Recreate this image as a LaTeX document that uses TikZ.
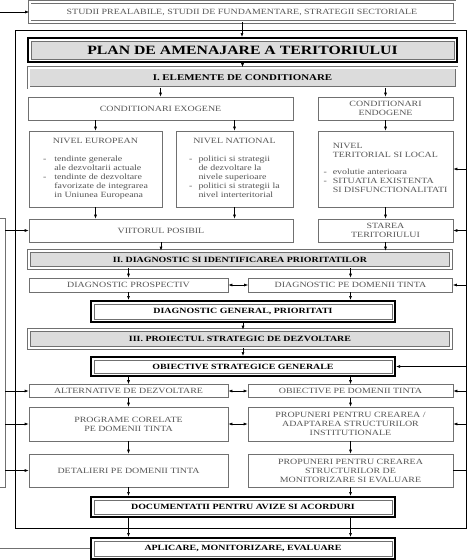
\documentclass[tikz,border=0pt]{standalone}
\usepackage{fontspec}
\setmainfont{Liberation Serif}[FakeStretch=1.24]
\usetikzlibrary{arrows.meta, positioning, calc}
\definecolor{boxline}{HTML}{707070}
\definecolor{boxtext}{HTML}{555555}
\definecolor{headfill}{HTML}{DCDCDC}

\begin{document}
\begin{tikzpicture}[x=1pt, y=-1pt, font=\fontsize{8}{9}\selectfont,
  arr/.style={-{Latex[length=4pt,width=3pt]}, line width=0.6pt},
  arrs/.style={{Latex[length=4pt,width=3pt]}-{Latex[length=4pt,width=3pt]}, line width=0.6pt},
  box/.style={draw=boxline, line width=0.6pt, fill=white, text=boxtext, inner sep=0pt, align=center},
  dbox/.style={draw=boxline, double=white, double distance=2pt, line width=0.6pt,
    fill=white, text=boxtext, inner sep=0pt, align=center},
  headbox/.style={dbox, fill=headfill, text=black, font=\fontsize{8}{9}\selectfont\bfseries},
  heavy/.style={draw=black, line width=2pt, fill=white, inner sep=0pt,
    font=\fontsize{8}{9}\selectfont\bfseries,
    path picture={\draw[boxline, fill=#1, line width=0.6pt]
      ([shift={(3pt,-3pt)}]path picture bounding box.north west) rectangle
      ([shift={(-3pt,3pt)}]path picture bounding box.south east);}},
  heavy/.default=white]
  \useasboundingbox (0,0) rectangle (470,560);

  % outer frame and feedback box
  \node[draw, line width=1pt, minimum width=451pt, minimum height=498pt] (frame) at (240.5,279) {};
  \node[draw=boxline, line width=0.6pt, minimum width=10pt, minimum height=269pt, inner sep=0pt] (fb) at (0,352.5) {};
  \coordinate (lin) at (0,12);
  \coordinate (lout) at (0,548.5);

  \node[dbox, minimum width=425pt, minimum height=20pt] (stu) at (242,12)
    {STUDII PREALABILE, STUDII DE FUNDAMENTARE, STRATEGII SECTORIALE};
  \node[heavy=headfill, minimum width=429pt, minimum height=24pt,
    font=\fontsize{12.7}{14}\selectfont\bfseries] (plan) at (242.5,50) {PLAN DE AMENAJARE A TERITORIULUI};
  \node[headbox, minimum width=428pt, minimum height=20pt, font=\fontsize{8.8}{10}\selectfont\bfseries]
    (elem) at (242.5,77.5) {I. ELEMENTE DE CONDITIONARE};

  % I. elemente de conditionare
  \node[box, minimum width=265pt, minimum height=23pt] (exo) at (160.5,108.5) {CONDITIONARI EXOGENE};
  \node[box, minimum width=135pt, minimum height=23pt] (endo) at (385.5,108.5) {CONDITIONARI\\ENDOGENE};
  \node[box, minimum width=133pt, minimum height=76pt] (eur) at (95.5,169) {NIVEL EUROPEAN\\[9pt]
    \begin{tabular}[t]{@{}l@{\hspace{8pt}}l@{}}
      - & tendinte generale\\ & ale dezvoltarii actuale\\
      - & tendinte de dezvoltare\\ & favorizate de integrarea\\ & in Uniunea Europeana
    \end{tabular}};
  \node[box, minimum width=117pt, minimum height=76pt] (nat) at (234.5,169) {NIVEL NATIONAL\\[9pt]
    \begin{tabular}[t]{@{}l@{\hspace{6pt}}l@{}}
      - & politici si strategii\\ & de dezvoltare la\\ & nivele superioare\\
      - & politici si strategii la\\ & nivel interteritorial
    \end{tabular}};
  \node[box, minimum width=135pt, minimum height=76pt] (ter) at (385.5,169)
    {\begin{tabular}[t]{@{}l@{\hspace{6pt}}l@{}}
      & NIVEL\\ & TERITORIAL SI LOCAL\\[8pt]
      - & evolutie anterioara\\ - & SITUATIA EXISTENTA\\ & SI DISFUNCTIONALITATI
    \end{tabular}};
  \node[box, minimum width=264pt, minimum height=23pt] (viit) at (161,230.5) {VIITORUL POSIBIL};
  \node[box, minimum width=135pt, minimum height=23pt] (star) at (385.5,230.5) {STAREA\\TERITORIULUI};

  % II. diagnostic
  \node[headbox, minimum width=422pt, minimum height=17pt] (diag) at (240,259.5)
    {II. DIAGNOSTIC SI IDENTIFICAREA PRIORITATILOR};
  \node[box, minimum width=199pt, minimum height=14pt] (prosp) at (128.5,285) {DIAGNOSTIC PROSPECTIV};
  \node[box, minimum width=204pt, minimum height=14pt] (dpd) at (350.5,285) {DIAGNOSTIC PE DOMENII TINTA};
  \node[heavy, minimum width=304pt, minimum height=21pt] (dgen) at (243,311.5) {DIAGNOSTIC GENERAL, PRIORITATI};

  % III. proiectul strategic
  \node[headbox, minimum width=422pt, minimum height=18pt] (proj) at (240,339)
    {III. PROIECTUL STRATEGIC DE DEZVOLTARE};
  \node[heavy, minimum width=304pt, minimum height=19pt] (obg) at (243,366.5) {OBIECTIVE STRATEGICE GENERALE};
  \node[box, minimum width=199pt, minimum height=13pt] (alt) at (128.5,391) {ALTERNATIVE DE DEZVOLTARE};
  \node[box, minimum width=205pt, minimum height=13pt] (opd) at (350.5,391) {OBIECTIVE PE DOMENII TINTA};
  \node[box, minimum width=199pt, minimum height=34pt] (prog) at (128.5,424) {PROGRAME CORELATE\\PE DOMENII TINTA};
  \node[box, minimum width=205pt, minimum height=34pt] (inst) at (350.5,424)
    {PROPUNERI PENTRU CREAREA /\\ADAPTAREA STRUCTURILOR\\INSTITUTIONALE};
  \node[box, minimum width=199pt, minimum height=33pt] (det) at (128.5,470.5) {DETALIERI PE DOMENII TINTA};
  \node[box, minimum width=205pt, minimum height=33pt] (mon) at (350.5,470.5)
    {PROPUNERI PENTRU CREAREA\\STRUCTURILOR DE\\MONITORIZARE SI EVALUARE};
  \node[heavy, minimum width=304pt, minimum height=20pt] (doc) at (243,507) {DOCUMENTATII PENTRU AVIZE SI ACORDURI};
  \node[heavy, minimum width=304pt, minimum height=21pt] (apl) at (243,548.5) {APLICARE, MONITORIZARE, EVALUARE};

  % main flow
  \draw[arr] (lin) -- (stu.west);
  \draw[arr] (stu.south) -- (stu.south |- plan.north);
  \draw[arr] (plan.south) -- (plan.south |- elem.north);
  \draw[arr] (elem.south -| exo.north) -- (exo.north);
  \draw[arr] (elem.south -| endo.north) -- (endo.north);
  \draw[arr] (exo.south -| eur.north) -- (eur.north);
  \draw[arr] (exo.south -| nat.north) -- (nat.north);
  \draw[arr] (endo.south) -- (ter.north);
  \draw[arr] (eur.south) -- (eur.south |- viit.north);
  \draw[arr] (nat.south) -- (nat.south |- viit.north);
  \draw[arr] (ter.south) -- (star.north);
  \draw[arr] (viit.south) -- (viit.south |- diag.north);
  \draw[arr] (star.south) -- (star.south |- diag.north);
  \draw[arr] (diag.south -| prosp.north) -- (prosp.north);
  \draw[arr] (diag.south -| dpd.north) -- (dpd.north);
  \draw[arrs] (prosp.east) -- (dpd.west);
  \draw[arr] (prosp.south) -- (prosp.south |- dgen.north);
  \draw[arr] (dpd.south) -- (dpd.south |- dgen.north);
  \draw[arr] (dgen.south) -- (dgen.south |- proj.north);
  \draw[arr] (proj.south -| obg.north) -- (obg.north);
  \draw[arr] (obg.south -| alt.north) -- (alt.north);
  \draw[arr] (obg.south -| opd.north) -- (opd.north);
  \draw[arrs] (alt.east) -- (opd.west);
  \draw[arr] (alt.south) -- (prog.north);
  \draw[arr] (opd.south) -- (inst.north);
  \draw[arrs] (prog.east) -- (inst.west);
  \draw[arr] (prog.south) -- (det.north);
  \draw[arr] (inst.south) -- (mon.north);
  \draw[arr] (det.south) -- (det.south |- doc.north);
  \draw[arr] (mon.south) -- (mon.south |- doc.north);
  \draw[arr] (doc.south -| det.south) -- (apl.north -| det.south);
  \draw[arr] (doc.south -| mon.south) -- (apl.north -| mon.south);
  \draw[line width=0.6pt, boxline] (apl.west) -- (lout);

  % feedback from the left
  \draw[arr] (fb.east |- viit.west) -- (viit.west);
  \draw[arr] (fb.east |- alt.west) -- (alt.west);
  \draw[arr] (fb.east |- prog.west) -- (prog.west);
  \draw[arr] (fb.east |- det.west) -- (det.west);

  % feedback from the right
  \draw[arr] (frame.east |- ter.east) -- (ter.east);
  \draw[arr] (frame.east |- star.east) -- (star.east);
  \draw[arr] (frame.east |- dpd.east) -- (dpd.east);
  \draw[arr] (frame.east |- obg.east) -- (obg.east);
  \draw[arr] (frame.east |- opd.east) -- (opd.east);
  \draw[arr] (frame.east |- inst.east) -- (inst.east);
  \draw[line width=0.6pt] (mon.east) -- (mon.east -| frame.east);
\end{tikzpicture}
\end{document}
